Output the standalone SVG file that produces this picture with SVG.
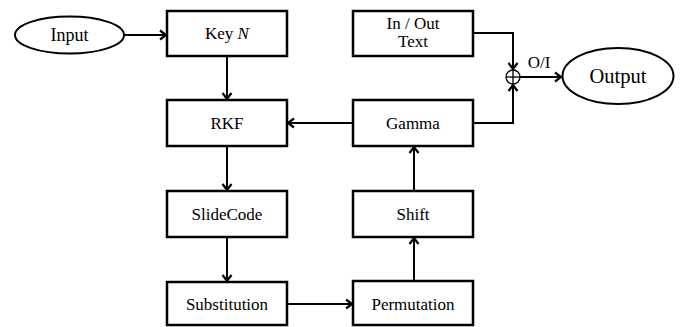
<svg xmlns="http://www.w3.org/2000/svg" width="680" height="327" viewBox="0 0 680 327">
<defs>
<marker id="arr" markerWidth="12" markerHeight="12" refX="9" refY="6" orient="auto" markerUnits="userSpaceOnUse">
<path d="M3,1.5 L9,6 L3,10.5" fill="none" stroke="#000" stroke-width="2.2"/>
</marker>
<style>
.box{fill:#fff;stroke:#000;stroke-width:2.5}
.ell{fill:#fff;stroke:#000;stroke-width:2}
.t{font-family:'Liberation Serif','Times New Roman',serif;font-size:17px;fill:#000;text-anchor:middle}
.c{fill:none;stroke:#000;stroke-width:2}
</style>
</defs>
<rect width="680" height="327" fill="#fff"/>
<g id="connectors">
<line class="c" x1="124" y1="35" x2="166" y2="35" marker-end="url(#arr)"/>
<line class="c" x1="227" y1="56" x2="227" y2="99" marker-end="url(#arr)"/>
<line class="c" x1="227" y1="146" x2="227" y2="190" marker-end="url(#arr)"/>
<line class="c" x1="227" y1="237" x2="227" y2="281" marker-end="url(#arr)"/>
<line class="c" x1="287" y1="304" x2="352" y2="304" marker-end="url(#arr)"/>
<line class="c" x1="414" y1="281" x2="414" y2="238" marker-end="url(#arr)"/>
<line class="c" x1="414" y1="191" x2="414" y2="147" marker-end="url(#arr)"/>
<line class="c" x1="353" y1="123" x2="288" y2="123" marker-end="url(#arr)"/>
<polyline class="c" points="473,33 513,33 513,69" marker-end="url(#arr)"/>
<polyline class="c" points="473,123 513,123 513,85" marker-end="url(#arr)"/>
<line class="c" x1="520" y1="77" x2="561" y2="77" marker-end="url(#arr)"/>
</g>
<g id="xor">
<circle cx="513" cy="77" r="7" fill="#fff" stroke="#000" stroke-width="1.3"/>
<line x1="506" y1="77" x2="520" y2="77" stroke="#000" stroke-width="1.3"/>
<line x1="513" y1="70" x2="513" y2="84" stroke="#000" stroke-width="1.3"/>
</g>
<g font-family="'Liberation Serif', 'Times New Roman', serif">
<text class="t" x="539" y="68" font-family="Liberation Serif, serif">O/I</text>
<g id="input">
<ellipse class="ell" cx="69.5" cy="35" rx="54.5" ry="18.5"/>
<text class="t" x="69.5" y="41" font-family="Liberation Serif, serif" style="font-size:18px">Input</text>
</g>
<g id="keyN">
<rect class="box" x="167" y="11" width="120" height="45"/>
<text class="t" x="227" y="39" font-family="Liberation Serif, serif">Key <tspan font-style="italic">N</tspan></text>
</g>
<g id="rkf">
<rect class="box" x="167" y="100" width="120" height="46"/>
<text class="t" x="227" y="129" font-family="Liberation Serif, serif">RKF</text>
</g>
<g id="slidecode">
<rect class="box" x="167" y="191" width="120" height="46"/>
<text class="t" x="227" y="220" font-family="Liberation Serif, serif">SlideCode</text>
</g>
<g id="substitution">
<rect class="box" x="167" y="282" width="120" height="43"/>
<text class="t" x="227" y="310" font-family="Liberation Serif, serif">Substitution</text>
</g>
<g id="inout">
<rect class="box" x="353" y="11" width="120" height="45"/>
<text class="t" x="413" y="29" font-family="Liberation Serif, serif">In / Out</text>
<text class="t" x="413" y="47" font-family="Liberation Serif, serif">Text</text>
</g>
<g id="gamma">
<rect class="box" x="353" y="100" width="120" height="46"/>
<text class="t" x="413" y="129" font-family="Liberation Serif, serif">Gamma</text>
</g>
<g id="shift">
<rect class="box" x="353" y="191" width="120" height="46"/>
<text class="t" x="413" y="220" font-family="Liberation Serif, serif">Shift</text>
</g>
<g id="permutation">
<rect class="box" x="353" y="281" width="120" height="44"/>
<text class="t" x="413" y="310" font-family="Liberation Serif, serif">Permutation</text>
</g>
<g id="output">
<ellipse class="ell" cx="618" cy="76" rx="55.5" ry="28"/>
<text class="t" x="618" y="83" font-family="Liberation Serif, serif" style="font-size:20.5px">Output</text>
</g>
</g>
</svg>
